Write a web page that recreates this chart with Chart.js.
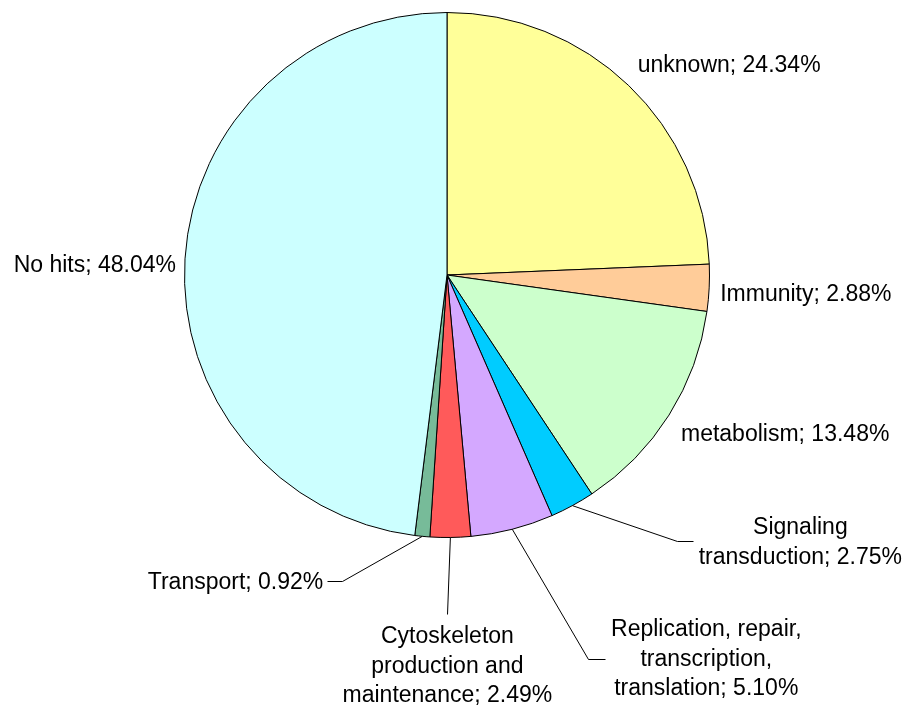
<!DOCTYPE html>
<html>
<head>
<meta charset="utf-8">
<script src="https://cdn.jsdelivr.net/npm/chart.js@4/dist/chart.umd.min.js"></script>
<style>
  body { margin: 0; background: #fff; }
  #wrap { width: 907px; height: 706px; }
</style>
</head>
<body>
<div id="wrap"><canvas id="pieChart" width="907" height="706"></canvas></div>
<script>
// Data //
var categories = ['unknown', 'Immunity', 'metabolism', 'Signaling\ntransduction',
    'Replication, repair,\ntranscription,\ntranslation', 'Cytoskeleton\nproduction and\nmaintenance',
    'Transport', 'No hits'];
var percents = [24.34, 2.88, 13.48, 2.75, 5.10, 2.49, 0.92, 48.04];
var sliceColors = ['#FFFF99', '#FFCC99', '#CCFFCC', '#00CCFF', '#D4A8FF', '#FF5A5A', '#77BB99', '#CCFFFF'];

// Label placement, offsets from the slice's outer edge midpoint //
var labelLayout = [
    { tx: 9,   ty: -20, align: 'left' },
    { tx: 11,  ty: 7,   align: 'left' },
    { tx: 12,  ty: 20,  align: 'left' },
    { tx: 228, ty: 37,  align: 'center', leader: [[105, 35], [121, 35]] },
    { tx: 194, ty: 130, align: 'center', leader: [[76, 130], [93, 130]] },
    { tx: -3,  ty: 129, align: 'center', leader: [[-3, 77]] },
    { tx: -99, ty: 46,  align: 'right',  leader: [[-80, 45], [-95, 45]] },
    { tx: -9,  ty: 7,   align: 'right' }
];

var lineHeight = 29.5;

var pieLabels = {
    id: 'pieLabels',
    afterDatasetsDraw: function(chart) {
        var ctx = chart.ctx;
        var arcs = chart.getDatasetMeta(0).data;
        ctx.save();
        ctx.font = '23px "Liberation Sans", Arial, sans-serif';
        ctx.fillStyle = '#000';
        ctx.strokeStyle = '#000';
        ctx.lineWidth = 1;
        ctx.textBaseline = 'middle';
        arcs.forEach(function(arc, i) {
            var mid = (arc.startAngle + arc.endAngle) / 2;
            var ex = arc.x + arc.outerRadius * Math.cos(mid);
            var ey = arc.y + arc.outerRadius * Math.sin(mid);
            var lay = labelLayout[i];
            if (lay.leader) {
                ctx.beginPath();
                ctx.moveTo(ex, ey);
                lay.leader.forEach(function(p) {
                    ctx.lineTo(Math.round(ex + p[0]) + 0.5, Math.round(ey + p[1]) + 0.5);
                });
                ctx.stroke();
            }
            var text = categories[i] + '; ' + percents[i].toFixed(2) + '%';
            var lines = text.split('\n');
            ctx.textAlign = lay.align;
            var y0 = ey + lay.ty - (lines.length - 1) * lineHeight / 2;
            lines.forEach(function(line, k) {
                ctx.fillText(line, ex + lay.tx, y0 + k * lineHeight);
            });
        });
        ctx.restore();
    }
};

var ctx = document.getElementById('pieChart').getContext('2d');
var chart = new Chart(ctx, {
    type: 'pie',
    data: {
        labels: categories,
        datasets: [{
            data: percents,
            backgroundColor: sliceColors,
            borderColor: '#000',
            borderWidth: 1
        }]
    },
    options: {
        responsive: false,
        animation: false,
        layout: { padding: { left: 184, right: 197, top: 12, bottom: 168 } },
        plugins: {
            legend: { display: false },
            tooltip: { enabled: false }
        }
    },
    plugins: [pieLabels]
});
</script>
</body>
</html>
